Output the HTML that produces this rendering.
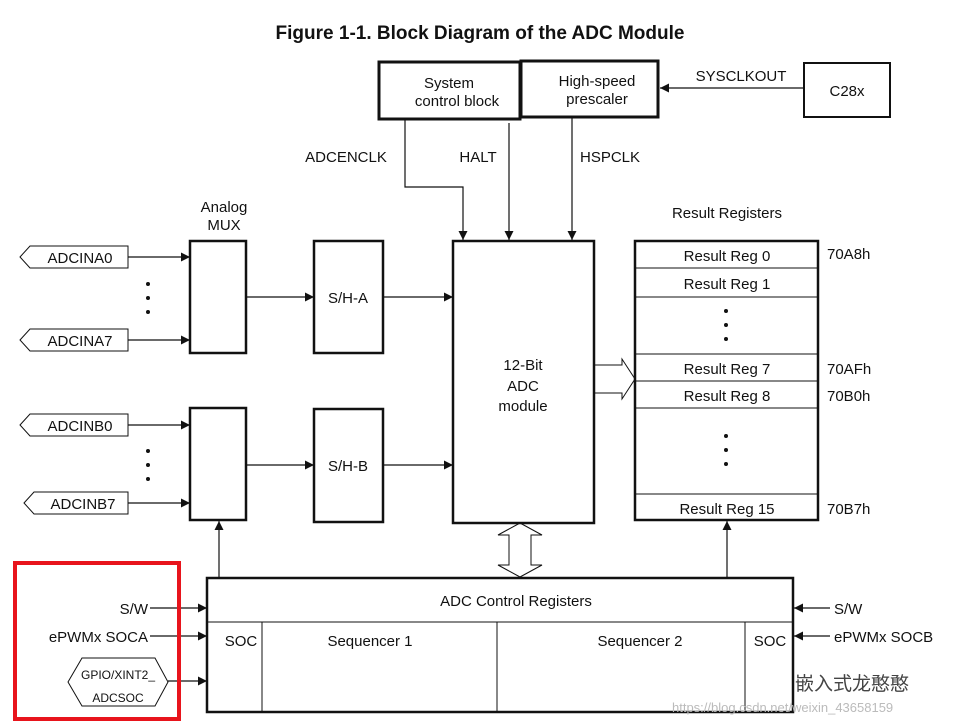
<!DOCTYPE html>
<html><head><style>body{margin:0;background:#fff}svg{display:block}text{font-family:"Liberation Sans",Arial,sans-serif;fill:#111}</style></head>
<body>
<svg width="956" height="725" viewBox="0 0 956 725" xmlns="http://www.w3.org/2000/svg">
<defs><marker id="a" viewBox="0 0 10 10" refX="10" refY="5" markerWidth="9" markerHeight="9" markerUnits="userSpaceOnUse" orient="auto"><path d="M0,0L10,5L0,10z" fill="#111"/></marker></defs>
<text x="480" y="39" font-size="19" font-weight="bold" text-anchor="middle">Figure 1-1.  Block Diagram of the ADC Module</text>
<g fill="none" stroke="#111">
<rect x="379" y="62" width="141" height="57" stroke-width="3"/>
<rect x="521" y="61" width="137" height="56" stroke-width="3"/>
<rect x="804" y="63" width="86" height="54" stroke-width="2"/>
<line x1="804" y1="88" x2="660" y2="88" stroke-width="1.2" marker-end="url(#a)"/>
<polyline points="405,119 405,187 463,187 463,240" stroke-width="1.2" marker-end="url(#a)"/>
<line x1="509" y1="123" x2="509" y2="240" stroke-width="1.2" marker-end="url(#a)"/>
<line x1="572" y1="118" x2="572" y2="240" stroke-width="1.2" marker-end="url(#a)"/>
<rect x="453" y="241" width="141" height="282" stroke-width="2.5"/>
<rect x="635" y="241" width="183" height="279" stroke-width="2.5"/>
<g stroke-width="1"><line x1="635" y1="268" x2="818" y2="268"/><line x1="635" y1="297" x2="818" y2="297"/><line x1="635" y1="354" x2="818" y2="354"/><line x1="635" y1="381" x2="818" y2="381"/><line x1="635" y1="408" x2="818" y2="408"/><line x1="635" y1="494" x2="818" y2="494"/></g>
<path d="M594,365 H622 V359 L635,379 L622,399 V393 H594" stroke-width="1"/>
<rect x="190" y="241" width="56" height="112" stroke-width="2.5"/>
<rect x="190" y="408" width="56" height="112" stroke-width="2.5"/>
<rect x="314" y="241" width="69" height="112" stroke-width="2.5"/>
<rect x="314" y="409" width="69" height="113" stroke-width="2.5"/>
<g stroke-width="1.2">
<line x1="128" y1="257" x2="190" y2="257" marker-end="url(#a)"/>
<line x1="128" y1="340" x2="190" y2="340" marker-end="url(#a)"/>
<line x1="128" y1="425" x2="190" y2="425" marker-end="url(#a)"/>
<line x1="128" y1="503" x2="190" y2="503" marker-end="url(#a)"/>
<line x1="246" y1="297" x2="314" y2="297" marker-end="url(#a)"/>
<line x1="383" y1="297" x2="453" y2="297" marker-end="url(#a)"/>
<line x1="246" y1="465" x2="314" y2="465" marker-end="url(#a)"/>
<line x1="383" y1="465" x2="453" y2="465" marker-end="url(#a)"/>
<line x1="219" y1="577" x2="219" y2="521" marker-end="url(#a)"/>
<line x1="727" y1="577" x2="727" y2="521" marker-end="url(#a)"/>
<line x1="150" y1="608" x2="207" y2="608" marker-end="url(#a)"/>
<line x1="150" y1="636" x2="207" y2="636" marker-end="url(#a)"/>
<line x1="168" y1="681" x2="207" y2="681" marker-end="url(#a)"/>
<line x1="830" y1="608" x2="794" y2="608" marker-end="url(#a)"/>
<line x1="830" y1="636" x2="794" y2="636" marker-end="url(#a)"/>
</g>
<g stroke-width="1">
<polygon points="20,257 30,246 128,246 128,268 30,268"/>
<polygon points="20,340 30,329 128,329 128,351 30,351"/>
<polygon points="20,425 30,414 128,414 128,436 30,436"/>
<polygon points="24,503 34,492 128,492 128,514 34,514"/>
<polygon points="68,682 82,658 155,658 168,682 155,706 82,706"/>
<path d="M509,523 L520,523 L520,523 M498,535 L520,523 L542,535 H531 V565 H542 L520,577 L498,565 H509 V535 Z"/>
</g>
<rect x="207" y="578" width="586" height="134" stroke-width="2.5"/>
<line x1="207" y1="622" x2="793" y2="622" stroke-width="1"/>
<line x1="262" y1="622" x2="262" y2="712" stroke-width="1"/>
<line x1="745" y1="622" x2="745" y2="712" stroke-width="1"/>
<line x1="497" y1="622" x2="497" y2="712" stroke-width="1"/>
<rect x="15" y="563" width="164" height="156" stroke="#e8141c" stroke-width="4"/>
</g>
<g fill="#111">
<circle cx="148" cy="284" r="2"/><circle cx="148" cy="298" r="2"/><circle cx="148" cy="312" r="2"/>
<circle cx="148" cy="451" r="2"/><circle cx="148" cy="465" r="2"/><circle cx="148" cy="479" r="2"/>
<circle cx="726" cy="311" r="2"/><circle cx="726" cy="325" r="2"/><circle cx="726" cy="339" r="2"/>
<circle cx="726" cy="436" r="2"/><circle cx="726" cy="450" r="2"/><circle cx="726" cy="464" r="2"/>
</g>
<g font-size="15" text-anchor="middle">
<text x="449" y="88">System</text><text x="457" y="106">control block</text>
<text x="597" y="86">High-speed</text><text x="597" y="104">prescaler</text>
<text x="847" y="96">C28x</text><text x="741" y="81">SYSCLKOUT</text>
<text x="346" y="162">ADCENCLK</text><text x="478" y="162">HALT</text><text x="610" y="162">HSPCLK</text>
<text x="224" y="212">Analog</text><text x="224" y="230">MUX</text>
<text x="727" y="218">Result Registers</text>
<text x="523" y="370">12-Bit</text><text x="523" y="391">ADC</text><text x="523" y="411">module</text>
<text x="727" y="261">Result Reg 0</text><text x="727" y="289">Result Reg 1</text>
<text x="727" y="374">Result Reg 7</text><text x="727" y="401">Result Reg 8</text><text x="727" y="514">Result Reg 15</text>
<text x="348" y="303">S/H-A</text><text x="348" y="471">S/H-B</text>
<text x="80" y="263">ADCINA0</text><text x="80" y="346">ADCINA7</text><text x="80" y="431">ADCINB0</text><text x="83" y="509">ADCINB7</text>
<text x="516" y="606">ADC Control Registers</text>
<text x="241" y="646">SOC</text><text x="770" y="646">SOC</text>
<text x="370" y="646">Sequencer 1</text><text x="640" y="646">Sequencer 2</text>
</g>
<g font-size="15">
<text x="827" y="259">70A8h</text><text x="827" y="374">70AFh</text><text x="827" y="401">70B0h</text><text x="827" y="514">70B7h</text>
<text x="834" y="614">S/W</text><text x="834" y="642">ePWMx SOCB</text>
<text x="148" y="614" text-anchor="end">S/W</text><text x="148" y="642" text-anchor="end">ePWMx SOCA</text>
</g>
<text x="118" y="679" font-size="12" text-anchor="middle">GPIO/XINT2_</text>
<text x="118" y="702" font-size="12" text-anchor="middle">ADCSOC</text>
<text x="795" y="690" font-size="19" style="fill:#444" font-family="Noto Sans CJK SC">嵌入式龙憨憨</text>
<text x="672" y="712" font-size="13" style="fill:#bbb">https://blog.csdn.net/weixin_43658159</text>
</svg>
</body></html>
